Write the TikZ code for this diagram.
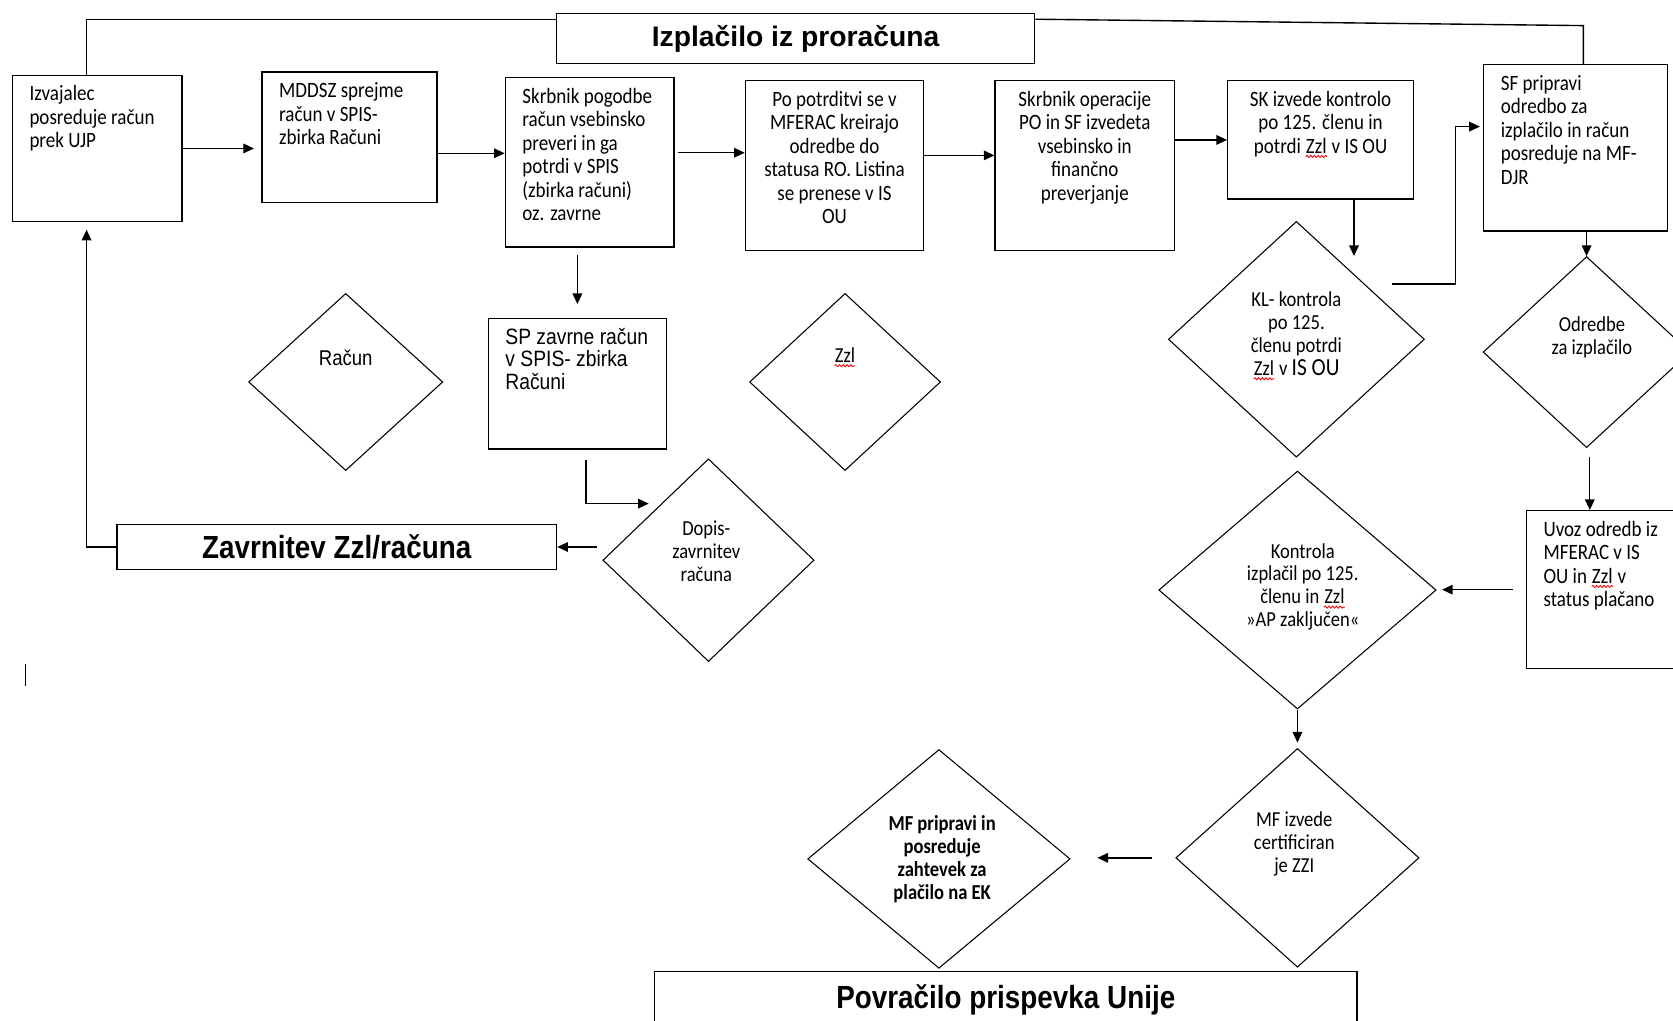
\documentclass[tikz,border=0pt]{standalone}
\usepackage{fontspec}
\setmainfont{Carlito}[FakeStretch=0.87]
\newfontfamily\arialfont{Liberation Sans}[FakeStretch=0.87]
\newfontfamily\titlefont{Liberation Sans}
\usetikzlibrary{shapes.geometric,arrows.meta,calc,decorations.pathmorphing}

% red spell-check wave under Zzl
\newcommand{\zzl}{\tikz[baseline=(zw.base)]{\node[rectangle, draw=none, inner sep=0pt, anchor=center, text width=, text height=, text depth=, minimum width=0pt, minimum height=0pt] (zw) {Zzl};\draw[red, line width=0.8pt, decorate, decoration={snake, amplitude=1pt, segment length=3.5pt}] ([yshift=-3pt]zw.base west) -- ([yshift=-3pt]zw.base east);}}
% lines of a box, set from the top
\newcommand{\leftlines}[2]{\makebox[#1][l]{\begin{tabular}[t]{@{}l@{}}#2\end{tabular}}}
\newcommand{\midlines}[2]{\makebox[#1][c]{\begin{tabular}[t]{@{}c@{}}#2\end{tabular}}}

\begin{document}
\begin{tikzpicture}[x=1pt, y=-1pt,
        box/.style={rectangle, draw, line width=1.3pt, anchor=north west, inner xsep=16pt, inner ysep=0pt, text height=24pt, font=\fontsize{20.5}{22}\selectfont},
        cbox/.style={box, inner xsep=8pt},
        head/.style={rectangle, draw, line width=1.3pt, anchor=north west, inner sep=0pt},
        dia/.style={diamond, draw, line width=1pt, inner sep=0pt},
        dtxt/.style={align=center, inner sep=0pt, font=\fontsize{20}{21.5}\selectfont},
        arrow/.style={-{Triangle[length=10pt,width=9pt]}, line width=1.3pt},
        link/.style={line width=1.3pt}
    ]
        \useasboundingbox (0,0) rectangle (1568,956);

        % Boxes
        \node[box, text depth=113pt] (izv) at (11,70) {\leftlines{127pt}{Izvajalec\\posreduje račun\\prek UJP}};
        \node[box, text depth=98pt] (mddsz) at (245,67) {\leftlines{132pt}{MDDSZ sprejme\\račun v SPIS-\\zbirka Računi}};
        \node[box, text depth=135pt] (skp) at (473,72) {\leftlines{126pt}{Skrbnik pogodbe\\račun vsebinsko\\preveri in ga\\potrdi v SPIS\\(zbirka računi)\\oz. zavrne}};
        \node[cbox, text depth=135pt] (potr) at (698,75) {\midlines{151pt}{Po potrditvi se v\\MFERAC kreirajo\\odredbe do\\statusa RO. Listina\\se prenese v IS\\OU}};
        \node[cbox, text depth=135pt] (sko) at (932,75) {\midlines{152pt}{Skrbnik operacije\\PO in SF izvedeta\\vsebinsko in\\finančno\\preverjanje}};
        \node[cbox, text depth=87pt] (sk) at (1150,75) {\midlines{158pt}{SK izvede kontrolo\\po 125. členu in\\potrdi \zzl{} v IS OU}};
        \node[box, text depth=132pt] (sf) at (1390,60) {\leftlines{140pt}{SF pripravi\\odredbo za\\izplačilo in račun\\posreduje na MF-\\DJR}};
        \node[box, text depth=98pt, font=\arialfont\fontsize{20.8}{20.5}\selectfont] (spz) at (457,298) {\leftlines{135pt}{SP zavrne račun\\v SPIS- zbirka\\Računi}};
        \node[box, text depth=124pt] (uvoz) at (1430,478) {\leftlines{133pt}{Uvoz odredb iz\\MFERAC v IS\\OU in \zzl{} v\\status plačano}};

        % Headings
        \node[head, minimum width=448, minimum height=47, font=\titlefont\bfseries\fontsize{26.5}{30}\selectfont] (title) at (521,12) {Izplačilo iz proračuna};
        \node[head, minimum width=412, minimum height=42, font=\arialfont\bfseries\fontsize{30}{34}\selectfont] (zav) at (109,491) {Zavrnitev Zzl/računa};
        \node[head, minimum width=658, minimum height=52, font=\arialfont\bfseries\fontsize{30}{34}\selectfont] (pov) at (613,910) {Povračilo prispevka Unije};

        % Diamonds
        \node[dia, minimum width=182, minimum height=166] (rac) at (324,358) {};
        \node[dia, minimum width=179, minimum height=166] (zzl) at (792,358) {};
        \node[dia, minimum width=198, minimum height=190] (dop) at (664,525) {};
        \node[dia, minimum width=240, minimum height=221] (kl) at (1215,318) {};
        \node[dia, minimum width=194, minimum height=179] (odr) at (1487,330) {};
        \node[dia, minimum width=260, minimum height=223] (kon) at (1216,553) {};
        \node[dia, minimum width=228, minimum height=205] (mfi) at (1216,804) {};
        \node[dia, minimum width=246, minimum height=205] (mfp) at (880,805) {};

        \node[dtxt, font=\arialfont\fontsize{20}{21}\selectfont] (ractxt) at (324,335) {Račun};
        \node[dtxt] (zzltxt) at (792,335) {\zzl};
        \node[dtxt] (doptxt) at (662,517) {Dopis-\\zavrnitev\\računa};
        \node[dtxt] (kltxt) at (1215,315) {KL- kontrola\\po 125.\\členu potrdi\\\zzl{} v {\fontsize{23}{21.5}\selectfont IS OU}};
        \node[dtxt] (odrtxt) at (1492,316) {Odredbe\\za izplačilo};
        \node[dtxt] (kontxt) at (1221,550) {Kontrola\\izplačil po 125.\\členu in \zzl\\»AP zaključen«};
        \node[dtxt] (mfitxt) at (1213,791) {MF izvede\\certificiran\\je ZZI};
        \node[dtxt, font=\bfseries\fontsize{20}{21.5}\selectfont] (mfptxt) at (883,805) {MF pripravi in\\posreduje\\zahtevek za\\plačilo na EK};

        % Free ends and bends
        \coordinate (tl) at (81,18);
        \coordinate (tr) at (1484,24);
        \coordinate (klin) at (1269,240);
        \coordinate (klout) at (1305,266);
        \coordinate (klbend) at (1364,266);
        \coordinate (odrout) at (1490,428);
        \coordinate (dopin) at (608,472);

        % Lines
        \draw[link] (izv.north -| tl) -- (tl) -- (tl -| title.west);
        \draw[link] (title.east |- tl) -- (tr) -- (tr |- sf.north);
        \draw[link] (24,622) -- (24,643);

        % Arrows
        \draw[arrow, shorten >=7pt] (izv) -- (izv -| mddsz.west);
        \draw[arrow] ([yshift=-15pt]mddsz.east) -- ([yshift=-15pt]mddsz.east -| skp.west);
        \draw[arrow, shorten <=3pt] ([yshift=9pt]skp.east) -- ([yshift=9pt]skp.east -| potr.west);
        \draw[arrow] ([yshift=9.5pt]potr.east) -- ([yshift=9.5pt]potr.east -| sko.west);
        \draw[arrow] (sko.east |- sk) -- (sk.west);
        \draw[arrow] (sk.south -| klin) -- (klin);
        \draw[arrow, shorten >=3pt] (klout) -- (klbend) |- ([yshift=20pt]sf.west);
        \draw[arrow] (sf.south -| odr.north) -- (odr.north);
        \draw[arrow] (odrout) -- (odrout |- uvoz.north);
        \draw[arrow, shorten <=12pt, shorten >=5pt] (uvoz.west) -- (uvoz.west -| kon.east);
        \draw[arrow, shorten >=5pt] (kon.south) -- (mfi.north);
        \draw[arrow, shorten <=22pt, shorten >=25pt] (mfi.west) -- (mfi.west -| mfp.east);
        \draw[arrow, shorten <=7pt, shorten >=13pt] (skp.south -| spz.north) -- (spz.north);
        \draw[arrow] ([xshift=8pt,yshift=-10pt]spz.south) |- (dopin);
        \draw[arrow, shorten <=5pt] (dop.west |- zav.east) -- (zav.east);
        \draw[arrow, shorten >=7pt] (zav.west) -| ([xshift=-10pt]izv.south);
    \end{tikzpicture}
\end{document}
